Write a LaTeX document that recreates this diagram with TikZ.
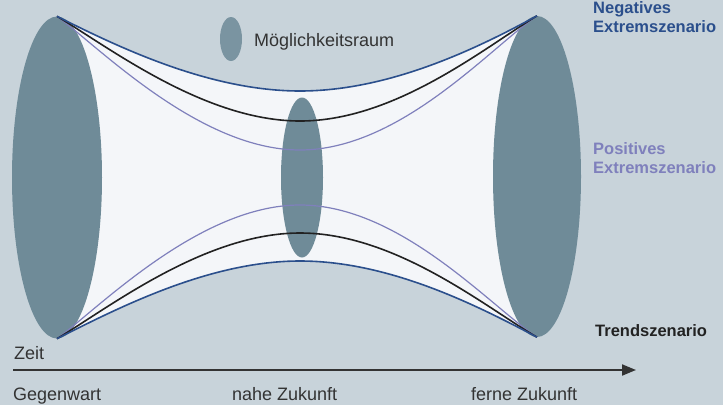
\documentclass[tikz,border=0pt]{standalone}
\usepackage{fontspec}
\setmainfont{Liberation Sans}
\usetikzlibrary{shapes.geometric,arrows.meta}
\definecolor{bgc}{HTML}{C8D3DA}
\definecolor{ellc}{HTML}{6F8B98}
\definecolor{legc}{HTML}{7A94A1}
\definecolor{whitec}{HTML}{F4F6F9}
\definecolor{negc}{HTML}{2B4F8C}
\definecolor{posc}{HTML}{7F80BC}
\definecolor{trendc}{HTML}{222222}
\definecolor{textc}{HTML}{333333}
\tikzset{
  space/.style={ellipse, fill=ellc, draw=none, inner sep=0pt},
  negline/.style={draw=negc, line width=1.6pt},
  trendline/.style={draw=trendc, line width=1.6pt},
  posline/.style={draw=posc, line width=1.2pt},
  lbl/.style={anchor=base west, inner sep=0pt, text=textc, font=\fontsize{18}{21}\selectfont},
  side/.style={anchor=base west, inner sep=0pt, align=left, font=\fontsize{16.5}{18.5}\selectfont\bfseries}
}
\begin{document}
\begin{tikzpicture}[x=1pt,y=-1pt]
\fill[bgc] (0,0) rectangle (723,405);
\useasboundingbox (0,0) rectangle (723,405);
% tips
\coordinate (LT) at (57,16.5);
\coordinate (LB) at (57,338.5);
\coordinate (RT) at (537,16);
\coordinate (RB) at (537,337);
% white possibility space
\fill[whitec] (LT) .. controls (120,48) and (210,91) .. (300,91)
  .. controls (390,91) and (478,48) .. (RT) -- (RB)
  .. controls (478,306) and (390,261) .. (300,261)
  .. controls (210,261) and (120,306) .. (LB) -- cycle;
% ellipses
\node[space, minimum width=90pt, minimum height=322pt] (L) at (57,177.5) {};
\node[space, minimum width=88pt, minimum height=321pt] (R) at (537,176.5) {};
\node[space, minimum width=42pt, minimum height=160pt] (M) at (302,177.5) {};
% scenario curves (top)
\draw[posline] (L.north) .. controls (100,48) and (200,150) .. (300,150)
  .. controls (400,150) and (490,48) .. (R.north);
\draw[trendline] (L.north) .. controls (110,48) and (205,121) .. (300,121)
  .. controls (395,121) and (484,48) .. (R.north);
\draw[negline] (L.north) .. controls (120,48) and (210,91) .. (300,91)
  .. controls (390,91) and (478,48) .. (R.north);
% scenario curves (bottom)
\draw[posline] (L.south) .. controls (100,307) and (200,205) .. (300,205)
  .. controls (400,205) and (490,306) .. (R.south);
\draw[trendline] (L.south) .. controls (110,307) and (205,233) .. (300,233)
  .. controls (395,233) and (484,306) .. (R.south);
\draw[negline] (L.south) .. controls (120,307) and (210,261) .. (300,261)
  .. controls (390,261) and (478,306) .. (R.south);
% legend
\node[ellipse, fill=legc, inner sep=0pt, minimum width=22pt, minimum height=44pt] (leg) at (231,39) {};
\node[lbl] (legt) at (254,46) {Möglichkeitsraum};
% side labels
\node[side, text=negc] (neg) at (593,32) {Negatives\\Extremszenario};
\node[side, text=posc] (pos) at (593,173) {Positives\\Extremszenario};
\node[side, text=trendc] (trend) at (595,336) {Trendszenario};
% time axis
\coordinate (A0) at (13,370);
\coordinate (A1) at (636,370);
\draw[draw=textc, line width=2pt, -{Triangle[length=14pt,width=11pt]}] (A0) -- (A1);
\node[lbl] (zeit) at (14,359) {Zeit};
\node[lbl] (gw) at (13,400) {Gegenwart};
\node[lbl] (nz) at (232,400) {nahe Zukunft};
\node[lbl] (fz) at (471,400) {ferne Zukunft};
\end{tikzpicture}
\end{document}
